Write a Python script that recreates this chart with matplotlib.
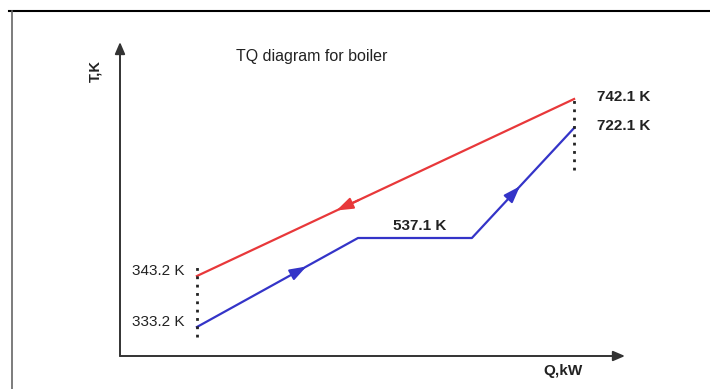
import numpy as np
import matplotlib
matplotlib.use("Agg")
import matplotlib.pyplot as plt
from matplotlib.lines import Line2D

plt.rcParams["font.family"] = ["Liberation Sans", "DejaVu Sans"]

# Hot gas (flows right to left) and water/steam (left to right)
Q_HOT = [0, 100]
T_HOT = [343.2, 742.1]
Q_COLD = [0, 42.7, 72.9, 100]
T_COLD = [333.2, 537.1, 537.1, 722.1]

HOT_COLOR = "#e8383a"
COLD_COLOR = "#3434c8"

# Schematic temperature axis: piecewise-linear so the phases stay readable
T_ANCHOR = np.array([300, 333.2, 343.2, 537.1, 722.1, 742.1, 800])
H_ANCHOR = np.array([0, 29, 80, 118, 228, 257, 314], dtype=float)


def fwd(t):
    return np.interp(t, T_ANCHOR, H_ANCHOR)


def inv(h):
    return np.interp(h, H_ANCHOR, T_ANCHOR)


def along(q0, t0, q1, t1, frac):
    q = q0 + frac * (q1 - q0)
    h = fwd(t0) + frac * (fwd(t1) - fwd(t0))
    return q, float(inv(h))


def flow_arrow(ax, q0, t0, q1, t1, frac, color):
    head = along(q0, t0, q1, t1, frac)
    tail = along(q0, t0, q1, t1, frac - 0.06)
    ax.annotate("", xy=head, xytext=tail,
                arrowprops=dict(arrowstyle="-|>,head_length=1.0,head_width=0.35",
                                color=color, lw=1.5, mutation_scale=10,
                                shrinkA=0, shrinkB=0))


fig = plt.figure(figsize=(7.1, 3.89), dpi=100)
ax = fig.add_axes([120 / 710, 33 / 389, 505 / 710, 314 / 389])
ax.set_yscale("function", functions=(fwd, inv))
ax.set_xlim(-20.4, 113.5)
ax.set_ylim(300, 800)
ax.axis("off")

# axes drawn as arrows
axis_kw = dict(arrowstyle="-|>,head_length=0.7,head_width=0.3",
               color="#333333", lw=1.4, mutation_scale=10, shrinkA=0, shrinkB=0)
ax.annotate("", xy=(1, 0), xytext=(0, 0), xycoords="axes fraction", arrowprops=axis_kw)
ax.annotate("", xy=(0, 1), xytext=(0, 0), xycoords="axes fraction", arrowprops=axis_kw)

ax.plot(Q_HOT, T_HOT, color=HOT_COLOR, lw=1.6)
ax.plot(Q_COLD, T_COLD, color=COLD_COLOR, lw=1.6)

flow_arrow(ax, Q_HOT[1], T_HOT[1], Q_HOT[0], T_HOT[0], 0.63, HOT_COLOR)
flow_arrow(ax, Q_COLD[0], T_COLD[0], Q_COLD[1], T_COLD[1], 0.68, COLD_COLOR)
flow_arrow(ax, Q_COLD[2], T_COLD[2], Q_COLD[3], T_COLD[3], 0.47, COLD_COLOR)

# dotted terminal lines
dot_kw = dict(color="#222222", lw=2.0, linestyle=(0, (1, 2.0)))
ax.axvline(Q_COLD[0], ymin=19 / 314, ymax=91 / 314, **dot_kw)
ax.axvline(Q_COLD[-1], ymin=186 / 314, ymax=260 / 314, **dot_kw)

lab = dict(textcoords="offset pixels", fontsize=11, color="#222222", va="center")
ax.annotate(f"{T_HOT[0]} K", (Q_HOT[0], T_HOT[0]), xytext=(-12, 5), ha="right", **lab)
ax.annotate(f"{T_COLD[0]} K", (Q_COLD[0], T_COLD[0]), xytext=(-12, 5), ha="right", **lab)
ax.annotate(f"{T_HOT[1]} K", (Q_HOT[1], T_HOT[1]), xytext=(23, 2), ha="left",
            fontweight="bold", **lab)
ax.annotate(f"{T_COLD[3]} K", (Q_COLD[3], T_COLD[3]), xytext=(23, 2), ha="left",
            fontweight="bold", **lab)
ax.annotate(f"{T_COLD[1]} K", ((Q_COLD[1] + Q_COLD[2]) / 2, T_COLD[1]), xytext=(5, 12),
            ha="center", fontweight="bold", **lab)

fig.text(312 / 710, 1 - 57 / 389, "TQ diagram for boiler", fontsize=11.5,
         ha="center", va="center", color="#222222")
fig.text(95 / 710, 1 - 71 / 389, "T,K", fontsize=10.5, fontweight="bold",
         rotation=90, ha="center", va="center", color="#222222")
fig.text(563 / 710, 1 - 371 / 389, "Q,kW", fontsize=11, fontweight="bold",
         ha="center", va="center", color="#222222")

# page frame
fig.add_artist(Line2D([9 / 710, 1], [1 - 11 / 389] * 2, color="black", lw=1.5))
fig.add_artist(Line2D([12 / 710] * 2, [0, 1 - 11 / 389], color="#666666", lw=1.2))

fig.savefig("out.png", dpi=100)
